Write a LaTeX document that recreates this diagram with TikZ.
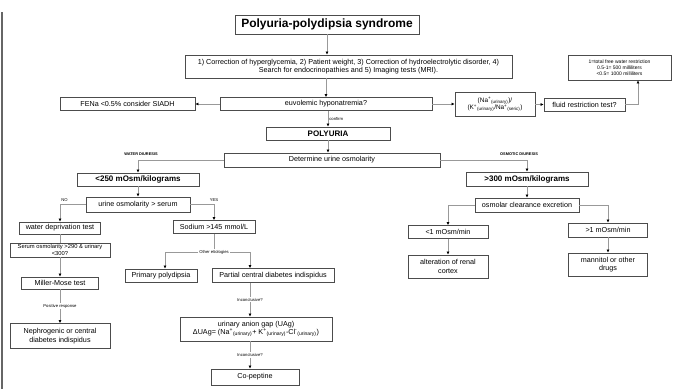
\documentclass[tikz,border=0pt]{standalone}
\usepackage{fontspec}
\setmainfont{Liberation Sans}
\usetikzlibrary{arrows.meta}

\begin{document}
\begin{tikzpicture}[x=1pt,y=-1pt,
  every node/.style={font=\fontsize{7.2}{8.4}\selectfont},
  box/.style={draw=black!70,line width=0.7pt,fill=white,align=center,inner sep=1pt},
  bbox/.style={box,font=\fontsize{8}{9.4}\selectfont\bfseries},
  ln/.style={draw=black!40,line width=0.7pt},
  arr/.style={ln,-{Latex[length=3pt,width=3pt,color=black]}},
  lbl/.style={font=\fontsize{4.2}{5}\selectfont,inner sep=1pt},
  tag/.style={font=\fontsize{3.9}{4.5}\selectfont\bfseries,inner sep=1pt}]
\useasboundingbox (0,0) rectangle (677,389);
\draw[black!60,line width=1.6pt] (2,12) -- (2,389);
% top
\node[box,font=\fontsize{12}{14}\selectfont\bfseries,minimum width=184pt,minimum height=19pt] (title) at (327,24.5) {Polyuria-polydipsia syndrome};
\node[box,minimum width=327pt,minimum height=23pt] (corr) at (348.5,66.5) {1) Correction of hyperglycemia, 2) Patient weight, 3) Correction of hydroelectrolytic disorder, 4)\\Search for endocrinopathies and 5) Imaging tests (MRI).};
\node[box,minimum width=212pt,minimum height=13pt] (euv) at (326,104) {euvolemic hyponatremia?};
\node[box,minimum width=135pt,minimum height=13pt] (fena) at (127.5,104) {FENa <0.5\% consider SIADH};
\node[box,font=\fontsize{6.4}{7.6}\selectfont,minimum width=80pt,minimum height=24pt] (na) at (495,104.5) {(Na\textsuperscript{+}\textsubscript{(urinary)})/\\(K\textsuperscript{+}\textsubscript{(urinary)}/Na\textsuperscript{+}\textsubscript{(seric)})};
\node[box,minimum width=81pt,minimum height=13pt] (fluid) at (584.5,104.5) {fluid restriction test?};
\node[box,font=\fontsize{5}{6}\selectfont,minimum width=103pt,minimum height=25pt] (free) at (619.5,67.5) {1=total free water restriction\\0.5-1= 500 milliliters\\<0.5= 1000 milliliters};
\node[bbox,minimum width=124pt,minimum height=13pt] (poly) at (328,133.5) {POLYURIA};
\node[box,minimum width=216pt,minimum height=14pt] (det) at (332,160) {Determine urine osmolarity};
\draw[arr] (title.south) -- (title.south |- corr.north);
\draw[arr] (euv.north |- corr.south) -- (euv.north);
\draw[arr] (euv.west) -- (fena.east);
\draw[arr] (euv.east) -- (euv.east -| na.west);
\draw[arr] (fluid.west -| na.east) -- (fluid.west);
\draw[arr] (fluid.east) -| ([xshift=18.5pt]free.south);
\draw[arr] (poly.north |- euv.south) -- (poly.north) node[midway,right,lbl] {confirm};
\draw[arr] (poly.south) -- (poly.south |- det.north);
% osmotic diuresis
\node[bbox,minimum width=122pt,minimum height=14pt] (osm) at (527,179) {>300 mOsm/kilograms};
\node[box,minimum width=104pt,minimum height=14pt] (clear) at (527,205) {osmolar clearance excretion};
\node[box,minimum width=80pt,minimum height=13pt] (lowcl) at (448,232) {<1 mOsm/min};
\node[box,minimum width=79pt,minimum height=14pt] (highcl) at (608,230) {>1 mOsm/min};
\node[box,minimum width=80pt,minimum height=23pt] (renal) at (448,266.5) {alteration of renal\\cortex};
\node[box,minimum width=79pt,minimum height=23pt] (mann) at (608,264.5) {mannitol or other\\drugs};
\draw[arr] (det.east) -| (osm.north) node[pos=0.5,above,tag,xshift=-8pt,yshift=3pt] {OSMOTIC DIURESIS};
\draw[arr] (osm) -- (clear);
\draw[arr] (clear.west) -| (lowcl.north);
\draw[arr] (clear.east) -| (highcl.north);
\draw[arr] (lowcl) -- (renal);
\draw[arr] (highcl) -- (mann);
% water diuresis
\node[bbox,minimum width=122pt,minimum height=13pt] (low) at (138,179.5) {<250 mOsm/kilograms};
\node[box,minimum width=104pt,minimum height=15pt] (urine) at (138,204.5) {urine osmolarity > serum};
\node[box,minimum width=81pt,minimum height=12pt] (wdt) at (60,228) {water deprivation test};
\node[box,minimum width=82pt,minimum height=13pt] (sod) at (214,227) {Sodium >145 mmol/L};
\draw[arr] (det.west) -| (low.north) node[pos=0.5,above,tag,xshift=3pt,yshift=3pt] {WATER DIURESIS};
\draw[arr] (low) -- (urine);
\draw[arr] (urine.west) -| (wdt.north) node[pos=0.5,above right,lbl,yshift=2pt] {NO};
\draw[arr] (urine.east) -| (sod.north) node[pos=0.5,above,lbl,yshift=2pt] {YES};
% no branch
\node[box,font=\fontsize{5.8}{6.8}\selectfont,minimum width=100pt,minimum height=14pt] (serum) at (60,250) {Serum osmolarity >290 \& urinary\\<300?};
\node[box,minimum width=77pt,minimum height=12pt] (miller) at (60,283) {Miller-Mose test};
\node[box,minimum width=100pt,minimum height=25pt] (neph) at (60,336) {Nephrogenic or central\\diabetes indispidus};
\draw[ln] (wdt.south) -- (wdt.south |- serum.north);
\draw[arr] (serum) -- (miller);
\draw[arr] (miller) -- (neph) node[midway,lbl,fill=white] {Positive response};
% yes branch
\coordinate (oth) at (214,252);
\coordinate (othl) at (165,252);
\coordinate (othr) at (250,252);
\node[box,minimum width=72pt,minimum height=13pt] (prim) at (161,275.5) {Primary polydipsia};
\node[box,minimum width=122pt,minimum height=14pt] (part) at (273,275.5) {Partial central diabetes indispidus};
\node[box,minimum width=152pt,minimum height=24pt] (uag) at (256,329) {urinary anion gap (UAg)\\ΔUAg= (Na\textsuperscript{+}\textsubscript{(urinary)}+ K\textsuperscript{+}\textsubscript{(urinary)}-Cl\textsuperscript{-}\textsubscript{(urinary)})};
\node[box,minimum width=88pt,minimum height=16pt] (cop) at (255,377) {Co-peptine};
\draw[ln] (sod.south) -- (oth);
\draw[ln] (othl) -- (othr);
\node[lbl,fill=white] at (oth) {Other etiologies};
\draw[arr] (othl) -- (othl |- prim.north);
\draw[arr] (othr) -- (othr |- part.north);
\draw[arr] (part.south -| othr) -- (uag.north -| othr) node[midway,lbl,fill=white] {Inconclusive?};
\draw[arr] (uag.south -| othr) -- (cop.north -| othr) node[midway,lbl,fill=white] {Inconclusive?};
\end{tikzpicture}
\end{document}
